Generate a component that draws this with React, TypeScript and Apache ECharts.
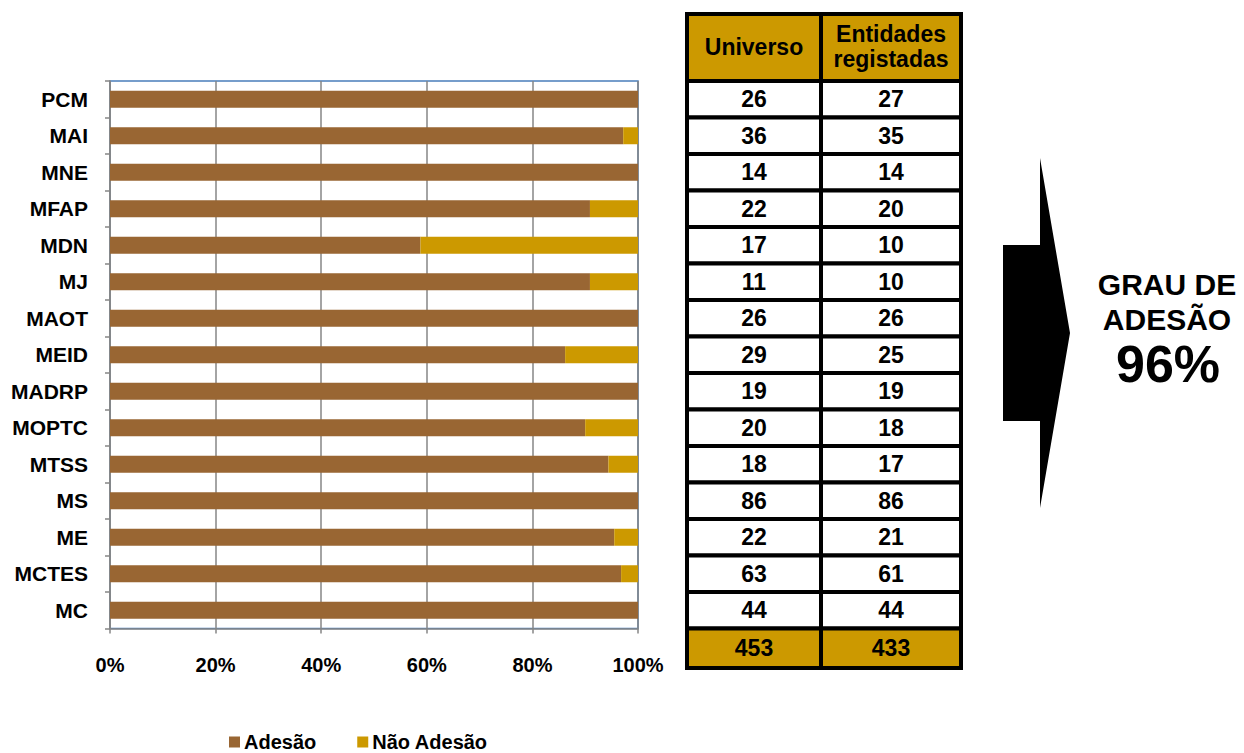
import React, { useEffect, useRef } from "react";
import * as echarts from "echarts";

const categories = ["PCM", "MAI", "MNE", "MFAP", "MDN", "MJ", "MAOT", "MEID", "MADRP", "MOPTC", "MTSS", "MS", "ME", "MCTES", "MC"];
const adesao = [100, 97.2, 100, 90.9, 58.8, 90.9, 100, 86.2, 100, 90, 94.4, 100, 95.5, 96.8, 100];
const naoAdesao = [0, 2.8, 0, 9.1, 41.2, 9.1, 0, 13.8, 0, 10, 5.6, 0, 4.5, 3.2, 0];
const xTicks = [0, 20, 40, 60, 80, 100];
const universo = [26, 36, 14, 22, 17, 11, 26, 29, 19, 20, 18, 86, 22, 63, 44];
const registadas = [27, 35, 14, 20, 10, 10, 26, 25, 19, 18, 17, 86, 21, 61, 44];
const totals = [453, 433];
const headers = ["Universo", "Entidades\nregistadas"];
const grauLines = ["GRAU DE", "ADESÃO"];
const grauValue = "96%";

const FONT = "Arial, 'Liberation Sans', Helvetica, sans-serif";
const BROWN = "#996633";
const GOLD = "#CC9900";

export default function App() {
  const ref = useRef<HTMLDivElement>(null);
  useEffect(() => {
    if (!ref.current) return;
    const chart = echarts.init(ref.current, undefined, { renderer: "svg" });

    const top = 81;
    const bottom = 628.5;
    const rowH = (bottom - top) / categories.length;
    const colX = [687, 821, 961];
    const headTop = 14;
    const totalBottom = 668;

    const g: any[] = [];
    headers.forEach((h, c) => {
      g.push({
        type: "rect",
        shape: { x: colX[c], y: headTop, width: colX[c + 1] - colX[c], height: top - headTop },
        style: { fill: GOLD, stroke: "#000", lineWidth: 4 },
        z: 10,
      });
      g.push({
        type: "text",
        x: (colX[c] + colX[c + 1]) / 2,
        y: (headTop + top) / 2 - 1,
        style: { text: h, fill: "#000", font: `bold 23px ${FONT}`, align: "center", verticalAlign: "middle", lineHeight: 25 },
        z: 11,
      });
    });
    const cols = [universo, registadas];
    categories.forEach((_, i) => {
      cols.forEach((arr, c) => {
        const y0 = top + i * rowH;
        g.push({
          type: "rect",
          shape: { x: colX[c], y: y0, width: colX[c + 1] - colX[c], height: rowH },
          style: { fill: "#fff", stroke: "#000", lineWidth: 4 },
          z: 10,
        });
        g.push({
          type: "text",
          x: (colX[c] + colX[c + 1]) / 2,
          y: y0 + rowH / 2,
          style: { text: String(arr[i]), fill: "#000", font: `bold 23px ${FONT}`, align: "center", verticalAlign: "middle" },
          z: 11,
        });
      });
    });
    totals.forEach((t, c) => {
      g.push({
        type: "rect",
        shape: { x: colX[c], y: bottom, width: colX[c + 1] - colX[c], height: totalBottom - bottom },
        style: { fill: GOLD, stroke: "#000", lineWidth: 4 },
        z: 10,
      });
      g.push({
        type: "text",
        x: (colX[c] + colX[c + 1]) / 2,
        y: (bottom + totalBottom) / 2,
        style: { text: String(t), fill: "#000", font: `bold 23px ${FONT}`, align: "center", verticalAlign: "middle" },
        z: 11,
      });
    });
    g.push({
      type: "polygon",
      shape: {
        points: [
          [1003, 245], [1040, 245], [1040, 158], [1070, 333], [1040, 508], [1040, 421], [1003, 421],
        ],
      },
      style: { fill: "#000" },
    });
    grauLines.forEach((t, i) => {
      g.push({
        type: "text",
        x: 1167,
        y: 284 + i * 35,
        style: { text: t, fill: "#000", font: `bold 30px ${FONT}`, align: "center", verticalAlign: "middle" },
      });
    });
    g.push({
      type: "text",
      x: 1168,
      y: 364,
      style: { text: grauValue, fill: "#000", font: `bold 52px ${FONT}`, align: "center", verticalAlign: "middle" },
    });

    chart.setOption({
      animation: false,
      backgroundColor: "#fff",
      grid: {
        left: 110,
        right: 1244 - 638,
        top: top,
        bottom: 753 - bottom,
        show: true,
        borderColor: "#4A7EBB",
        borderWidth: 1.5,
        containLabel: false,
      },
      legend: {
        left: 229,
        top: 732,
        padding: 0,
        itemWidth: 11,
        itemHeight: 11,
        itemGap: 41,
        icon: "rect",
        textStyle: { fontFamily: FONT, fontWeight: "bold", fontSize: 20, color: "#000", padding: [0, 0, 0, -1] },
        data: ["Adesão", "Não Adesão"],
      },
      xAxis: {
        type: "value",
        min: 0,
        max: 100,
        interval: 20,
        axisLine: { show: true, lineStyle: { color: "#868686", width: 1.5 } },
        axisTick: { show: true, length: 5, lineStyle: { color: "#868686", width: 1.5 } },
        splitLine: { show: true, lineStyle: { color: "#868686", width: 1.5 } },
        axisLabel: {
          margin: 26,
          fontFamily: FONT,
          fontWeight: "bold",
          fontSize: 20,
          color: "#000",
          formatter: (v: number) => (xTicks.includes(v) ? `${v}%` : ""),
        },
      },
      yAxis: {
        type: "category",
        inverse: true,
        data: categories,
        axisLine: { show: true, lineStyle: { color: "#868686", width: 1.5 } },
        axisTick: { show: true, length: 5, lineStyle: { color: "#868686", width: 1.5 } },
        axisLabel: { margin: 22, fontFamily: FONT, fontWeight: "bold", fontSize: 21, color: "#000" },
      },
      series: [
        {
          name: "Adesão",
          type: "bar",
          stack: "total",
          data: adesao,
          barWidth: 17,
          itemStyle: { color: BROWN },
        },
        {
          name: "Não Adesão",
          type: "bar",
          stack: "total",
          data: naoAdesao,
          barWidth: 17,
          itemStyle: { color: GOLD },
        },
      ],
      graphic: g,
    });
    return () => chart.dispose();
  }, []);
  return <div ref={ref} style={{ width: 1244, height: 753, position: "absolute", left: 0, top: 0 }} />;
}
